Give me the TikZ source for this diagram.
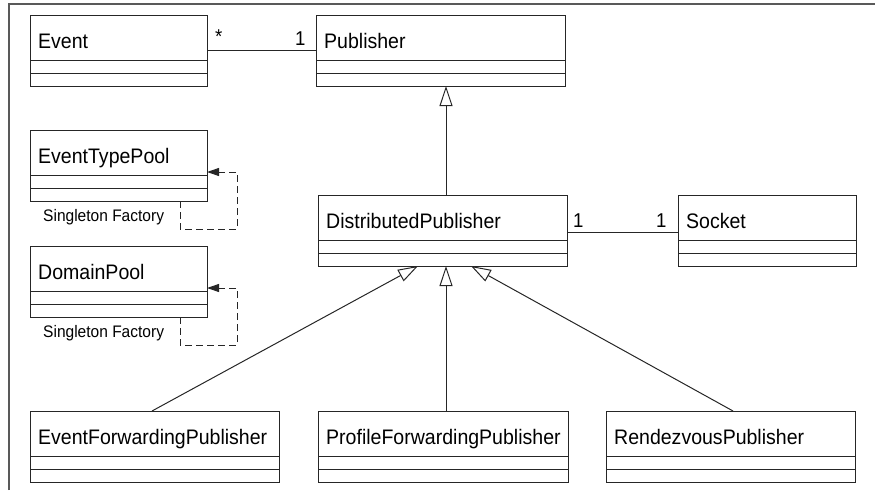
\documentclass[tikz,border=0pt]{standalone}
\usepackage{fontspec}
\setmainfont[FakeStretch=0.93]{Liberation Sans}
\usetikzlibrary{arrows.meta}

\tikzset{
  x=1pt, y=-1pt,
  classbox/.style={draw=black!85, line width=1pt, inner sep=0pt, outer sep=0pt, anchor=north west},
  classline/.style={draw=black!85, line width=1pt},
  cname/.style={anchor=base west, inner sep=0pt, font=\fontsize{21}{24}\selectfont},
  notetext/.style={anchor=base west, inner sep=0pt, font=\fontsize{16.7}{19}\selectfont},
  mult/.style={anchor=base west, inner sep=0pt, font=\fontsize{20}{24}\selectfont},
  assoc/.style={draw=black!85, line width=1pt},
  gen/.style={draw=black!85, line width=1pt, -{Triangle[open, length=20pt, width=13pt]}},
  selfdep/.style={draw=black!85, line width=1pt, dash pattern=on 7pt off 4pt,
    -{Triangle[length=12pt, width=8pt]}},
  frameline/.style={draw=black!65, line width=1.6pt},
}

% UML class: name, x, y (top left), width, label
\newcommand\umlclass[5]{%
  \node[classbox, minimum width=#4pt, minimum height=71pt] (#1) at (#2,#3) {};
  \draw[classline] ([yshift=-45pt]#1.north west) -- ([yshift=-45pt]#1.north east);
  \draw[classline] ([yshift=-58pt]#1.north west) -- ([yshift=-58pt]#1.north east);
  \node[cname] (#1-name) at ([xshift=8pt,yshift=-33pt]#1.north west) {#5};
}

\begin{document}
\begin{tikzpicture}
\useasboundingbox (0,0) rectangle (875,490);

% frame
\draw[frameline] (9,490) -- (9,4) -- (875,4);

% classes
\umlclass{event}{30}{15}{177}{Event}
\umlclass{pub}{316}{15}{249}{Publisher}
\umlclass{etp}{30}{130}{177}{EventTypePool}
\umlclass{dom}{30}{246}{177}{DomainPool}
\umlclass{dp}{318}{195}{249}{DistributedPublisher}
\umlclass{sock}{678}{195}{178}{Socket}
\umlclass{efp}{30}{411}{249}{EventForwardingPublisher}
\umlclass{pfp}{318}{411}{250}{ProfileForwardingPublisher}
\umlclass{rp}{606}{411}{249}{RendezvousPublisher}

% associations
\draw[assoc] ([yshift=-35pt]event.north east) -- ([yshift=-35pt]pub.north west);
\node[mult] (m-ev) at ([xshift=8pt,yshift=-28pt]event.north east) {*};
\node[mult] (m-pub) at ([xshift=-21pt,yshift=-30pt]pub.north west) {1};

\draw[assoc] ([yshift=-37pt]dp.north east) -- ([yshift=-37pt]sock.north west);
\node[mult] (m-dp) at ([xshift=6pt,yshift=-32pt]dp.north east) {1};
\node[mult] (m-sock) at ([xshift=-22pt,yshift=-32pt]sock.north west) {1};

% generalisations
\coordinate (dp-top) at ([xshift=128pt]dp.north west);
\draw[gen] (dp-top) -- (dp-top |- pub.south);
\draw[gen] ([xshift=122pt]efp.north west) -- ([xshift=100pt]dp.south west);
\draw[gen] ([xshift=128pt]pfp.north west) -- ([xshift=128pt]dp.south west);
\draw[gen] ([xshift=127pt]rp.north west) -- ([xshift=153pt]dp.south west);

% singleton factory self dependencies
\draw[selfdep] ([xshift=150pt]etp.south west) -- ++(0,28)
  -| ([xshift=30pt,yshift=-42pt]etp.north east) -- ([yshift=-42pt]etp.north east);
\node[notetext] (etp-note) at ([xshift=13pt,yshift=-20pt]etp.south west) {Singleton Factory};

\draw[selfdep] ([xshift=150pt]dom.south west) -- ++(0,28)
  -| ([xshift=30pt,yshift=-42pt]dom.north east) -- ([yshift=-42pt]dom.north east);
\node[notetext] (dom-note) at ([xshift=13pt,yshift=-20pt]dom.south west) {Singleton Factory};
\end{tikzpicture}
\end{document}
